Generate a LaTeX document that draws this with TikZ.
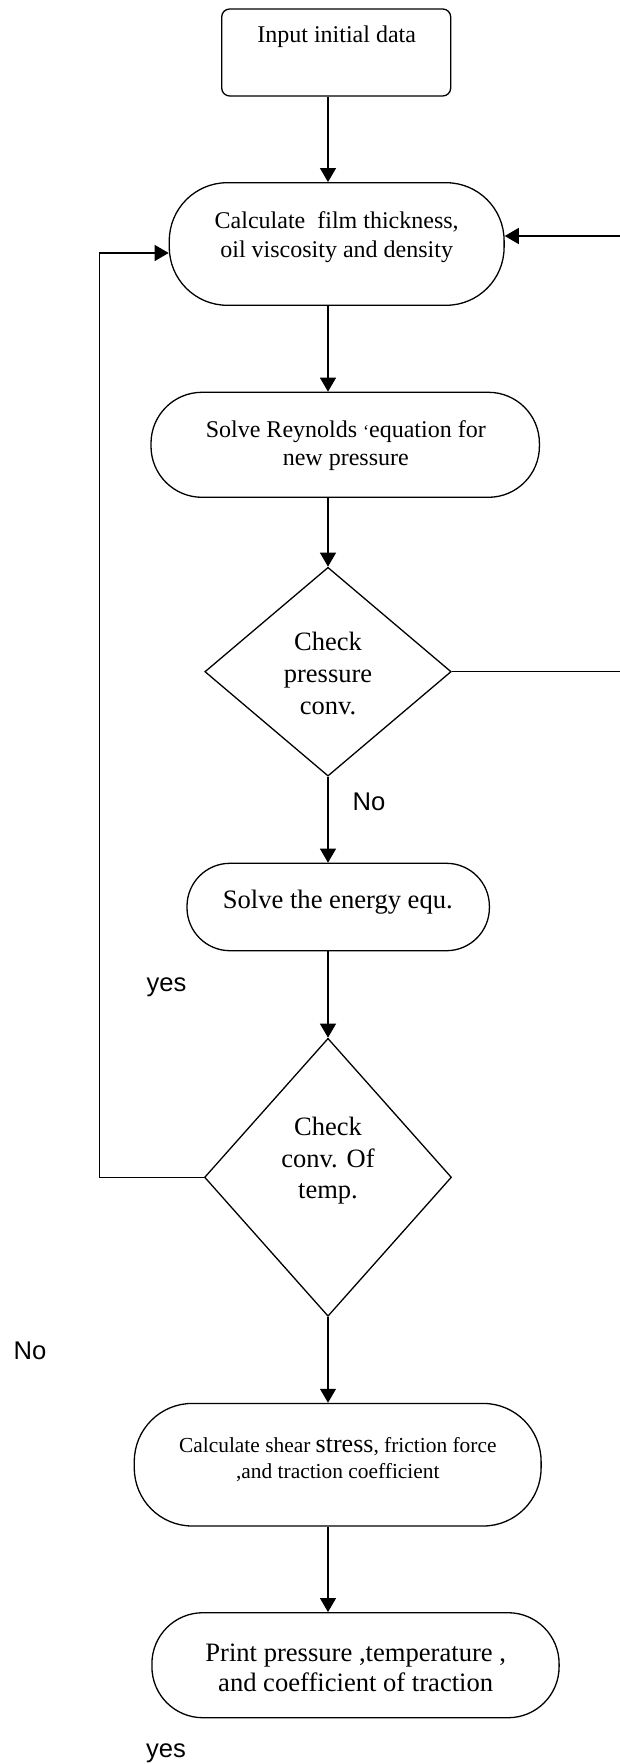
\documentclass[tikz,border=0pt]{standalone}
\usepackage{fontspec}
\setmainfont{Liberation Serif}
\newfontfamily\lblfont{Liberation Sans}
\usetikzlibrary{shapes.geometric,arrows.meta}
\begin{document}
\begin{tikzpicture}[x=0.5pt,y=-0.5pt,line width=0.65pt,
  plainbox/.style={draw, rectangle, rounded corners=4pt, inner sep=0pt},
  term/.style={draw, rectangle, rounded corners=#1, inner sep=0pt},
  dia/.style={draw, diamond, inner sep=0pt},
  txt/.style={align=center, inner sep=0pt},
  lbl/.style={font=\lblfont\fontsize{12.8}{15}\selectfont, inner sep=0pt},
  arr/.style={-{Triangle[length=7pt,width=8pt]}}
]
\useasboundingbox (0,0) rectangle (620,1764);

% shapes
\node[plainbox, minimum width=114.5pt, minimum height=43.5pt] (inp) at (336.2,52.5) {};
\node[term=29pt, minimum width=167.4pt, minimum height=61.3pt] (calc) at (336.7,244) {};
\node[term=25.5pt, minimum width=194.2pt, minimum height=52.5pt] (reyn) at (345.2,444.8) {};
\node[term=21.5pt, minimum width=151.2pt, minimum height=43.7pt] (energy) at (338.2,907) {};
\node[dia, minimum width=123.2pt, minimum height=104.4pt] (d1) at (328,671.7) {};
\node[dia, minimum width=123.5pt, minimum height=139pt] (d2) at (328,1177.3) {};
\node[term=29pt, minimum width=203.4pt, minimum height=61.3pt] (shear) at (337.7,1464.7) {};
\node[term=25.5pt, minimum width=203.6pt, minimum height=52.5pt] (print) at (355.5,1665.2) {};

% texts
\node[txt, font=\fontsize{12}{14.5}\selectfont] (inpt) at (336.7,37) {Input initial data};
\node[txt, font=\fontsize{12}{14.5}\selectfont] (calct) at (336.7,237.5) {Calculate\ \ film thickness,\\oil viscosity and density};
\node[txt, font=\fontsize{12}{13.8}\selectfont] (reynt) at (345.8,445.5) {Solve Reynolds {\fontsize{9}{9}\selectfont`}equation for\\new pressure};
\node[txt, font=\fontsize{13.25}{16}\selectfont] (d1t) at (328,673) {Check\\pressure\\conv.};
\node[txt, font=\fontsize{13.3}{16}\selectfont] (energyt) at (337.8,901.7) {Solve the energy equ.};
\node[txt, font=\fontsize{13.25}{15.7}\selectfont] (d2t) at (328,1161) {Check\\conv. Of\\temp.};
\node[txt, font=\fontsize{10.7}{13}\selectfont] (sheart) at (337.8,1460) {Calculate shear {\fontsize{13}{13}\selectfont stress}, friction force\\,and traction coefficient};
\node[txt, font=\fontsize{13.3}{15}\selectfont] (printt) at (355.7,1668) {Print pressure ,temperature ,\\ and coefficient of traction};

% labels
\node[lbl] (no1) at (369,802) {No};
\node[lbl] (yes1) at (166.5,987) {yes};
\node[lbl] (no2) at (30,1351) {No};
\node[lbl] (yes2) at (166,1753) {yes};

% helper coordinates
\coordinate (ax) at (328,0);
\coordinate (lx) at (99.4,0);
\coordinate (ly) at (0,253);
\coordinate (rx) at (623,0);
\coordinate (ry) at (0,236);

% connectors
\draw[arr] (inp.south -| ax) -- (calc.north -| ax);
\draw[arr] (calc.south -| ax) -- (reyn.north -| ax);
\draw[arr] (reyn.south -| ax) -- (d1.north);
\draw[arr] (d1.south) -- (energy.north -| ax);
\draw[arr] (energy.south -| ax) -- (d2.north);
\draw[arr] (d2.south) -- (shear.north -| ax);
\draw[arr] (shear.south -| ax) -- (print.north -| ax);
\draw[arr] (d2.west) -- (d2.west -| lx) -- (lx |- ly) -- (calc.west |- ly);
\draw[arr] (d1.east) -- (d1.east -| rx) -- (rx |- ry) -- (calc.east |- ry);
\end{tikzpicture}
\end{document}
